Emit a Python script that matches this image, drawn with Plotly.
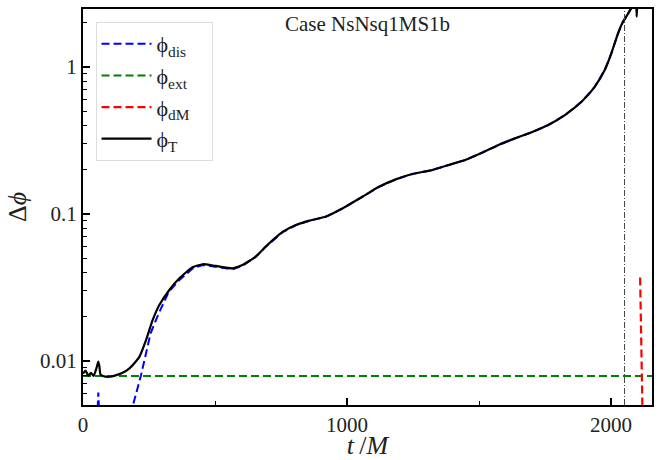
import plotly.graph_objects as go

# Data
t_T = [0, 10, 20, 30, 40, 50, 55, 58, 62, 66, 75, 100, 126, 150, 176, 200, 214, 239, 264, 289, 327, 365, 415, 453,
       503, 566, 604, 654, 692, 725, 756, 806, 857, 920, 982, 1058, 1121, 1184, 1247, 1322, 1397, 1447, 1511,
       1574, 1636, 1699, 1762, 1825, 1888, 1938, 1976, 2001, 2026, 2045, 2064, 2085, 2093, 2097, 2100]
phi_T = [0.0082, 0.0086, 0.0079, 0.0083, 0.0079, 0.0088, 0.0095, 0.0099, 0.0092, 0.0081, 0.0079, 0.0078, 0.0080,
         0.0083, 0.0089, 0.0099, 0.0107, 0.0139, 0.0190, 0.0240, 0.0304, 0.0365, 0.0434, 0.0455,
         0.0443, 0.0427, 0.0449, 0.0513, 0.0600, 0.0680, 0.0755, 0.0841, 0.0901, 0.096, 0.109, 0.131, 0.153, 0.172,
         0.187, 0.199, 0.219, 0.233, 0.261, 0.295, 0.327, 0.360, 0.403, 0.471, 0.580, 0.734, 0.955, 1.24, 1.69,
         2.03, 2.30, 2.7, 3.5, 2.2, 3.5]

t_dis = [0, 50, 55, 58, 61, 66, 150, 188, 219, 256, 287, 325, 365, 415, 453, 503, 566, 604, 654, 692, 725, 756,
         806, 857, 920, 982, 1058, 1121, 1184, 1247, 1322, 1397, 1447, 1511, 1574, 1636, 1699, 1762, 1825, 1888,
         1938, 1976, 2001, 2026, 2045, 2064, 2085]
phi_dis = [0.004, 0.004, 0.0045, 0.0061, 0.0045, 0.004, 0.003, 0.0049, 0.0079, 0.0154, 0.0211, 0.0296, 0.0355,
           0.0425, 0.0450, 0.0438, 0.0420, 0.0445, 0.0510, 0.0597, 0.0677, 0.0752, 0.0838, 0.0898, 0.0957, 0.1088,
           0.1308, 0.1528, 0.1718, 0.1868, 0.1988, 0.2188, 0.2328, 0.2608, 0.2948, 0.3268, 0.3598, 0.4028,
           0.4708, 0.5798, 0.7338, 0.9548, 1.2398, 1.6898, 2.0298, 2.2998, 2.7]

t_ext = [0, 2155]
phi_ext = [0.0079, 0.0079]

t_dM = [2110, 2112, 2114, 2116, 2118, 2120]
phi_dM = [0.037, 0.02, 0.011, 0.007, 0.005, 0.0035]

t_merger = 2051
title_text = "Case NsNsq1MS1b"

font_family = "Liberation Serif, DejaVu Serif, serif"
pad = "\u00a0\u00a0\u00a0"

fig = go.Figure()
fig.add_trace(go.Scatter(x=t_dis, y=phi_dis, mode="lines", name="ϕ<sub>dis</sub>" + pad,
                         line=dict(color="#0000ff", width=2, dash="8px,4px")))
fig.add_trace(go.Scatter(x=t_ext, y=phi_ext, mode="lines", name="ϕ<sub>ext</sub>" + pad,
                         line=dict(color="#008000", width=2, dash="8px,4px")))
fig.add_trace(go.Scatter(x=t_dM, y=phi_dM, mode="lines", name="ϕ<sub>dM</sub>" + pad,
                         line=dict(color="#ff0000", width=2.2, dash="8px,4px")))
fig.add_trace(go.Scatter(x=t_T, y=phi_T, mode="lines", name="ϕ<sub>T</sub>" + pad,
                         line=dict(color="black", width=2.2, shape="spline", smoothing=0.5)))

fig.add_vline(x=t_merger, line=dict(color="#444444", width=1, dash="6px,2px,1px,2px"))

fig.add_annotation(text=title_text, x=0.5, y=0.997, xref="paper", yref="paper",
                   xanchor="center", yanchor="top", showarrow=False,
                   font=dict(size=21, color="#222222", family=font_family))

fig.update_layout(
    width=662, height=460,
    margin=dict(l=83, r=10, t=9, b=55),
    plot_bgcolor="white", paper_bgcolor="white",
    font=dict(family=font_family, size=20, color="#222222"),
    showlegend=True,
    legend=dict(x=0.022, y=0.967, xanchor="left", yanchor="top",
                bgcolor="rgba(255,255,255,0.9)", bordercolor="#dddddd", borderwidth=1,
                itemwidth=50, font=dict(size=22, family=font_family)),
)
fig.update_xaxes(range=[0, 2155], showgrid=False, zeroline=False, automargin=False,
                 showline=True, linecolor="black", linewidth=2, mirror=True,
                 ticks="inside", ticklen=7, tickwidth=1.5, tickcolor="black",
                 tickvals=[0, 1000, 2000], ticktext=["0", "1000", "2000"],
                 minor=dict(ticks="inside", ticklen=4, tickwidth=1, tickcolor="black",
                            tickvals=[500, 1500]),
                 tickfont=dict(size=21),
                 title=dict(text="<i>t</i>\u2009/<i>M</i>", font=dict(size=26), standoff=2))
fig.update_yaxes(type="log", range=[-2.3, 0.395], showgrid=False, zeroline=False, automargin=False,
                 showline=True, linecolor="black", linewidth=2, mirror=True,
                 ticks="inside", ticklen=7, tickwidth=1.5, tickcolor="black",
                 tickvals=[0.01, 0.1, 1], ticktext=["0.01", "0.1", "1"],
                 minor=dict(ticks="inside", ticklen=4, tickwidth=1, tickcolor="black",
                            tickvals=[0.006, 0.007, 0.008, 0.009, 0.02, 0.03, 0.04, 0.05, 0.06, 0.07, 0.08, 0.09,
                                      0.2, 0.3, 0.4, 0.5, 0.6, 0.7, 0.8, 0.9, 2]),
                 tickfont=dict(size=21),
                 title=dict(text="Δ<i>ϕ</i>", font=dict(size=26), standoff=6))

fig.write_html("out.html", config={"displayModeBar": False},
               post_script="document.body.style.margin='0';document.body.style.overflow='hidden';")
